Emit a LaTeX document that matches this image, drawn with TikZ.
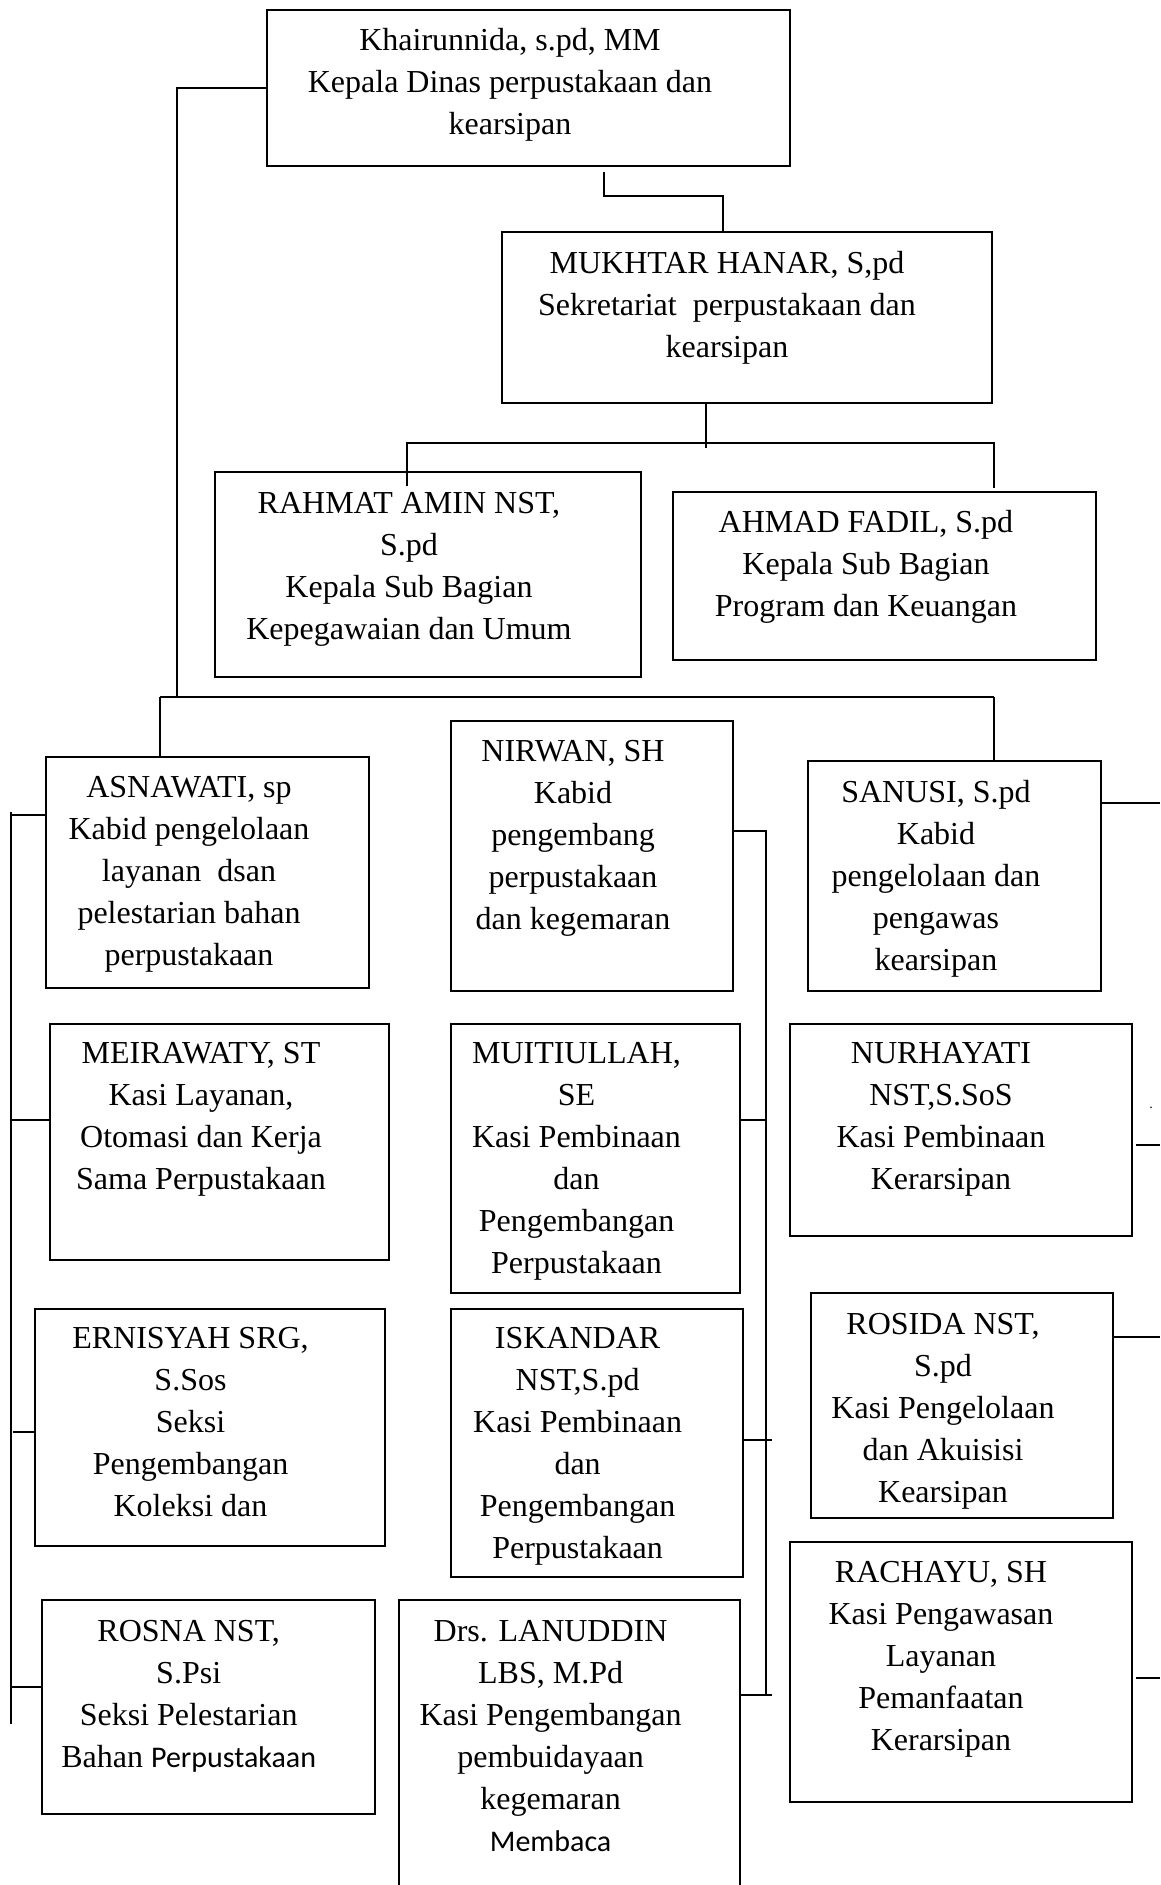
\documentclass[tikz,border=0pt]{standalone}
\usepackage{fontspec}
\setmainfont{Liberation Serif}
\newfontfamily\sansalt{Carlito}
\usetikzlibrary{fit}
\begin{document}
\begin{tikzpicture}[x=1pt,y=-1pt,
  boxst/.style={draw, line width=1.6pt, inner sep=0pt, outer sep=0pt},
  txt/.style={anchor=north, align=center, inner sep=0pt, font=\fontsize{32}{42}\selectfont},
  conn/.style={line width=1.6pt}]
\useasboundingbox (0,0) rectangle (1160,1885);
% boxes
\node[boxst, fit={(267,10)(790,166)}] (kadis) {};
\node[boxst, fit={(502,232)(992,403)}] (sek) {};
\node[boxst, fit={(215,472)(641,677)}] (rahmat) {};
\node[boxst, fit={(673,492)(1096,660)}] (ahmad) {};
\node[boxst, fit={(46,757)(369,988)}] (asna) {};
\node[boxst, fit={(451,721)(733,991)}] (nirwan) {};
\node[boxst, fit={(808,761)(1101,991)}] (sanusi) {};
\node[boxst, fit={(50,1024)(389,1260)}] (meira) {};
\node[boxst, fit={(451,1024)(740,1293)}] (muiti) {};
\node[boxst, fit={(790,1024)(1132,1236)}] (nurha) {};
\node[boxst, fit={(35,1309)(385,1546)}] (ernis) {};
\node[boxst, fit={(451,1309)(743,1577)}] (iskan) {};
\node[boxst, fit={(811,1293)(1113,1518)}] (rosida) {};
\node[boxst, fit={(42,1600)(375,1814)}] (rosna) {};
\node[boxst, fit={(399,1600)(740,1900)}] (lanud) {};
\node[boxst, fit={(790,1542)(1132,1802)}] (rachayu) {};
% texts
\node[txt] (tkadis) at (510,21) {\strut Khairunnida, s.pd, MM\\Kepala Dinas perpustakaan dan\\kearsipan};
\node[txt] (tsek) at (727,244) {\strut MUKHTAR HANAR, S,pd\\Sekretariat\ \ perpustakaan dan\\kearsipan};
\node[txt] (trahmat) at (409,483.5) {\strut RAHMAT AMIN NST,\\S.pd\\Kepala Sub Bagian\\Kepegawaian dan Umum};
\node[txt] (tahmad) at (866,503) {\strut AHMAD FADIL, S.pd\\Kepala Sub Bagian\\Program dan Keuangan};
\node[txt] (tasna) at (189,768) {\strut ASNAWATI, sp\\Kabid pengelolaan\\layanan\ \ dsan\\pelestarian bahan\\perpustakaan};
\node[txt] (tnirwan) at (573,732) {\strut NIRWAN, SH\\Kabid\\pengembang\\perpustakaan\\dan kegemaran};
\node[txt] (tsanusi) at (936,773) {\strut SANUSI, S.pd\\Kabid\\pengelolaan dan\\pengawas\\kearsipan};
\node[txt] (tmeira) at (201,1034) {\strut MEIRAWATY, ST\\Kasi Layanan,\\Otomasi dan Kerja\\Sama Perpustakaan};
\node[txt] (tmuiti) at (576.5,1034) {\strut MUITIULLAH,\\SE\\Kasi Pembinaan\\dan\\Pengembangan\\Perpustakaan};
\node[txt] (tnurha) at (941,1034) {\strut NURHAYATI\\NST,S.SoS\\Kasi Pembinaan\\Kerarsipan};
\node[txt] (ternis) at (190.5,1319) {\strut ERNISYAH SRG,\\S.Sos\\Seksi\\Pengembangan\\Koleksi dan};
\node[txt] (tiskan) at (577.6,1319) {\strut ISKANDAR\\NST,S.pd\\Kasi Pembinaan\\dan\\Pengembangan\\Perpustakaan};
\node[txt] (trosida) at (943,1304.5) {\strut ROSIDA NST,\\S.pd\\Kasi Pengelolaan\\dan Akuisisi\\Kearsipan};
\node[txt] (trosna) at (188.7,1612) {\strut ROSNA NST,\\S.Psi\\Seksi Pelestarian\\Bahan {\sansalt\fontsize{30}{42}\selectfont Perpustakaan}};
\node[txt] (tlanud) at (550.6,1612) {\strut Drs. LANUDDIN\\LBS, M.Pd\\Kasi Pengembangan\\pembuidayaan\\kegemaran\\{\sansalt\fontsize{30}{42}\selectfont Membaca}};
\node[txt] (trachayu) at (941,1553) {\strut RACHAYU, SH\\Kasi Pengawasan\\Layanan\\Pemanfaatan\\Kerarsipan};
\node[inner sep=0pt, font=\fontsize{14}{14}\selectfont] (dot) at (1151,1108) {.};
% junction coordinates
\coordinate (trunk) at (177,697);
\coordinate (busL) at (160,697);
\coordinate (busR) at (994,697);
\coordinate (k1) at (604,172);
\coordinate (k2) at (723,196);
\coordinate (s1) at (706,448);
\coordinate (subL) at (407,443);
\coordinate (subR) at (994,443);
\coordinate (nbus) at (766,831);
\coordinate (nend) at (766,1696);
\coordinate (ltop) at (11,812);
\coordinate (lend) at (11,1724);
% connectors
\draw[conn] (kadis.west) -| (trunk);
\draw[conn] (busL) -- (busR);
\draw[conn] (busL) -- (busL |- asna.north);
\draw[conn] (busR) -- (busR |- sanusi.north);
\draw[conn] (k1) |- (k2) -- (k2 |- sek.north);
\draw[conn] (s1 |- sek.south) -- (s1);
\draw[conn] (subL |- 0,486) -- (subL) -- (subR) -- (subR |- 0,488);
\draw[conn] (nirwan.east |- nbus) -- (nbus) -- (nend);
\draw[conn] (muiti.east |- 0,1120) -- (767,1120);
\draw[conn] (iskan.east |- 0,1440) -- (772,1440);
\draw[conn] (lanud.east |- 0,1695) -- (772,1695);
\draw[conn] (ltop) -- (lend);
\draw[conn] (11,815) -- (asna.west |- 0,815);
\draw[conn] (11,1120) -- (meira.west |- 0,1120);
\draw[conn] (13,1432) -- (ernis.west |- 0,1432);
\draw[conn] (11,1687) -- (rosna.west |- 0,1687);
\draw[conn] (sanusi.east |- 0,803) -- (1160,803);
\draw[conn] (1136,1145) -- (1160,1145);
\draw[conn] (rosida.east |- 0,1337) -- (1160,1337);
\draw[conn] (1136,1678) -- (1160,1678);
\end{tikzpicture}
\end{document}
